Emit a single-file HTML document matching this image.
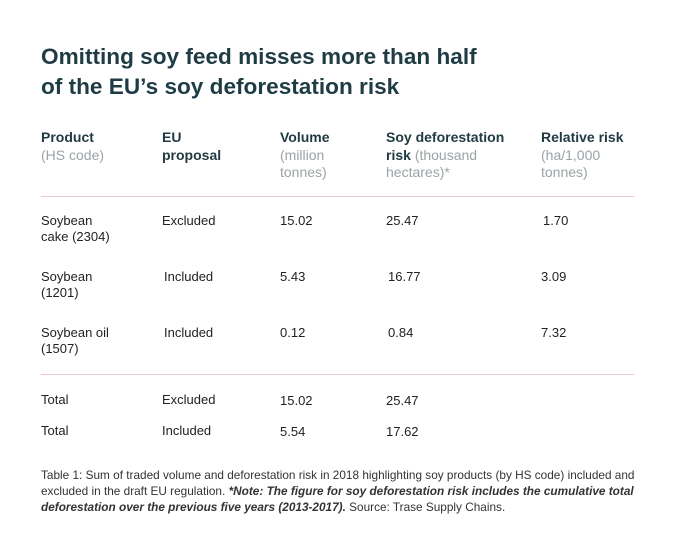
<!DOCTYPE html>
<html><head><meta charset="utf-8"><style>
body{margin:0;width:675px;height:547px;background:#fff;font-family:"Liberation Sans",sans-serif;color:#1f3a40;position:relative;overflow:hidden}
.a{position:absolute;white-space:nowrap}
.t{font-size:22.6px;font-weight:bold;line-height:30px;color:#1f3c44;left:41px;top:42px}
.h{font-size:14px;line-height:17.5px;font-weight:bold;top:129px}
.h span{font-weight:normal;color:#9aa3a5}
.c{font-size:13px;line-height:16px;color:#222}
.rule{position:absolute;left:41px;width:593px;height:1px;background:#ebc9d4}
.cap{font-size:11.8px;line-height:16px;color:#333;left:41px;top:467px}
</style></head><body>
<div class="a t">Omitting soy feed misses more than half<br>of the EU’s soy deforestation risk</div>
<div class="a h" style="left:41px">Product<br><span>(HS code)</span></div>
<div class="a h" style="left:162px">EU<br>proposal</div>
<div class="a h" style="left:280px">Volume<br><span>(million<br>tonnes)</span></div>
<div class="a h" style="left:386px">Soy deforestation<br>risk <span>(thousand<br>hectares)*</span></div>
<div class="a h" style="left:541px">Relative risk<br><span>(ha/1,000<br>tonnes)</span></div>
<div class="rule" style="top:196px"></div>

<div class="a c" style="left:41px;top:213px">Soybean<br>cake (2304)</div>
<div class="a c" style="left:162px;top:213px">Excluded</div>
<div class="a c" style="left:280px;top:213px">15.02</div>
<div class="a c" style="left:386px;top:213px">25.47</div>
<div class="a c" style="left:543px;top:213px">1.70</div>

<div class="a c" style="left:41px;top:269px">Soybean<br>(1201)</div>
<div class="a c" style="left:164px;top:269px">Included</div>
<div class="a c" style="left:280px;top:269px">5.43</div>
<div class="a c" style="left:388px;top:269px">16.77</div>
<div class="a c" style="left:541px;top:269px">3.09</div>

<div class="a c" style="left:41px;top:325px">Soybean oil<br>(1507)</div>
<div class="a c" style="left:164px;top:325px">Included</div>
<div class="a c" style="left:280px;top:325px">0.12</div>
<div class="a c" style="left:388px;top:325px">0.84</div>
<div class="a c" style="left:541px;top:325px">7.32</div>
<div class="rule" style="top:374px"></div>

<div class="a c" style="left:41px;top:392px">Total</div>
<div class="a c" style="left:162px;top:392px">Excluded</div>
<div class="a c" style="left:280px;top:393px">15.02</div>
<div class="a c" style="left:386px;top:393px">25.47</div>
<div class="a c" style="left:41px;top:423px">Total</div>
<div class="a c" style="left:162px;top:423px">Included</div>
<div class="a c" style="left:280px;top:424px">5.54</div>
<div class="a c" style="left:386px;top:424px">17.62</div>

<div class="a cap">Table 1: Sum of traded volume and deforestation risk in 2018 highlighting soy products (by HS code) included and<br>excluded in the draft EU regulation. <b><i>*Note: The figure for soy deforestation risk includes the cumulative total<br>deforestation over the previous five years (2013-2017).</i></b> Source: Trase Supply Chains.</div>
</body></html>
